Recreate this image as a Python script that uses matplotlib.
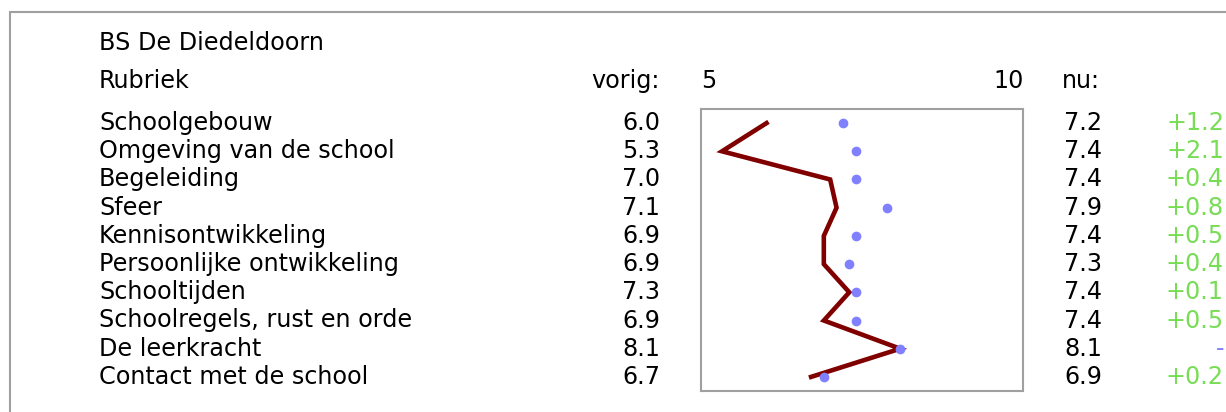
import matplotlib
matplotlib.use("Agg")
import matplotlib.pyplot as plt
from matplotlib.transforms import blended_transform_factory
from matplotlib.patches import Rectangle

school = "BS De Diedeldoorn"
rubrieken = ["Schoolgebouw", "Omgeving van de school", "Begeleiding", "Sfeer",
             "Kennisontwikkeling", "Persoonlijke ontwikkeling", "Schooltijden",
             "Schoolregels, rust en orde", "De leerkracht", "Contact met de school"]
vorig = [6.0, 5.3, 7.0, 7.1, 6.9, 6.9, 7.3, 6.9, 8.1, 6.7]
nu = [7.2, 7.4, 7.4, 7.9, 7.4, 7.3, 7.4, 7.4, 8.1, 6.9]
verschil = ["+1.2", "+2.1", "+0.4", "+0.8", "+0.5", "+0.4", "+0.1", "+0.5", "-", "+0.2"]

W, H = 1226, 412
fig = plt.figure(figsize=(W / 100, H / 100), dpi=100)
plt.rcParams['font.family'] = ['DejaVu Sans']

# buitenkader
fig.add_artist(Rectangle((10 / W, -0.1), 1.2, (H - 12) / H + 0.1, transform=fig.transFigure,
                         fill=False, edgecolor='#a0a0a0', linewidth=1.5))

ax = fig.add_axes([701 / W, 1 - 391 / H, (1023 - 701) / W, (391 - 109) / H])
rijen = list(range(len(rubrieken)))
ax.plot(vorig, rijen, color='#800000', linewidth=3.3, solid_joinstyle='miter')
ax.plot(nu, rijen, 'o', color='#8080ff', markersize=7, markeredgewidth=0)
ax.set_xlim(4.97, 10.03)
ax.set_ylim(9.5, -0.5)
ax.set_xticks([])
ax.set_yticks([])
for s in ax.spines.values():
    s.set_color('#a0a0a0')
    s.set_linewidth(1.5)

fs = 17.2
tr = blended_transform_factory(fig.transFigure, ax.transData)
for i in rijen:
    ax.text(99 / W, i, rubrieken[i], transform=tr, fontsize=fs, ha='left', va='center')
    ax.text(660 / W, i, f"{vorig[i]:.1f}", transform=tr, fontsize=fs, ha='right', va='center')
    ax.text(1064 / W, i, f"{nu[i]:.1f}", transform=tr, fontsize=fs, ha='left', va='center')
    kleur = '#8080ff' if verschil[i] == '-' else '#77dd55'
    ax.text(1224 / W, i, verschil[i], transform=tr, fontsize=fs, ha='right', va='center', color=kleur)

fig.text(99 / W, 1 - 43 / H, school, fontsize=fs, ha='left', va='center')
fig.text(99 / W, 1 - 81 / H, "Rubriek", fontsize=fs, ha='left', va='center')
fig.text(660 / W, 1 - 81 / H, "vorig:", fontsize=fs, ha='right', va='center')
fig.text(701 / W, 1 - 81 / H, "5", fontsize=fs, ha='left', va='center')
fig.text(1024 / W, 1 - 81 / H, "10", fontsize=fs, ha='right', va='center')
fig.text(1062 / W, 1 - 81 / H, "nu:", fontsize=fs, ha='left', va='center')

fig.savefig("out.png", dpi=100)
